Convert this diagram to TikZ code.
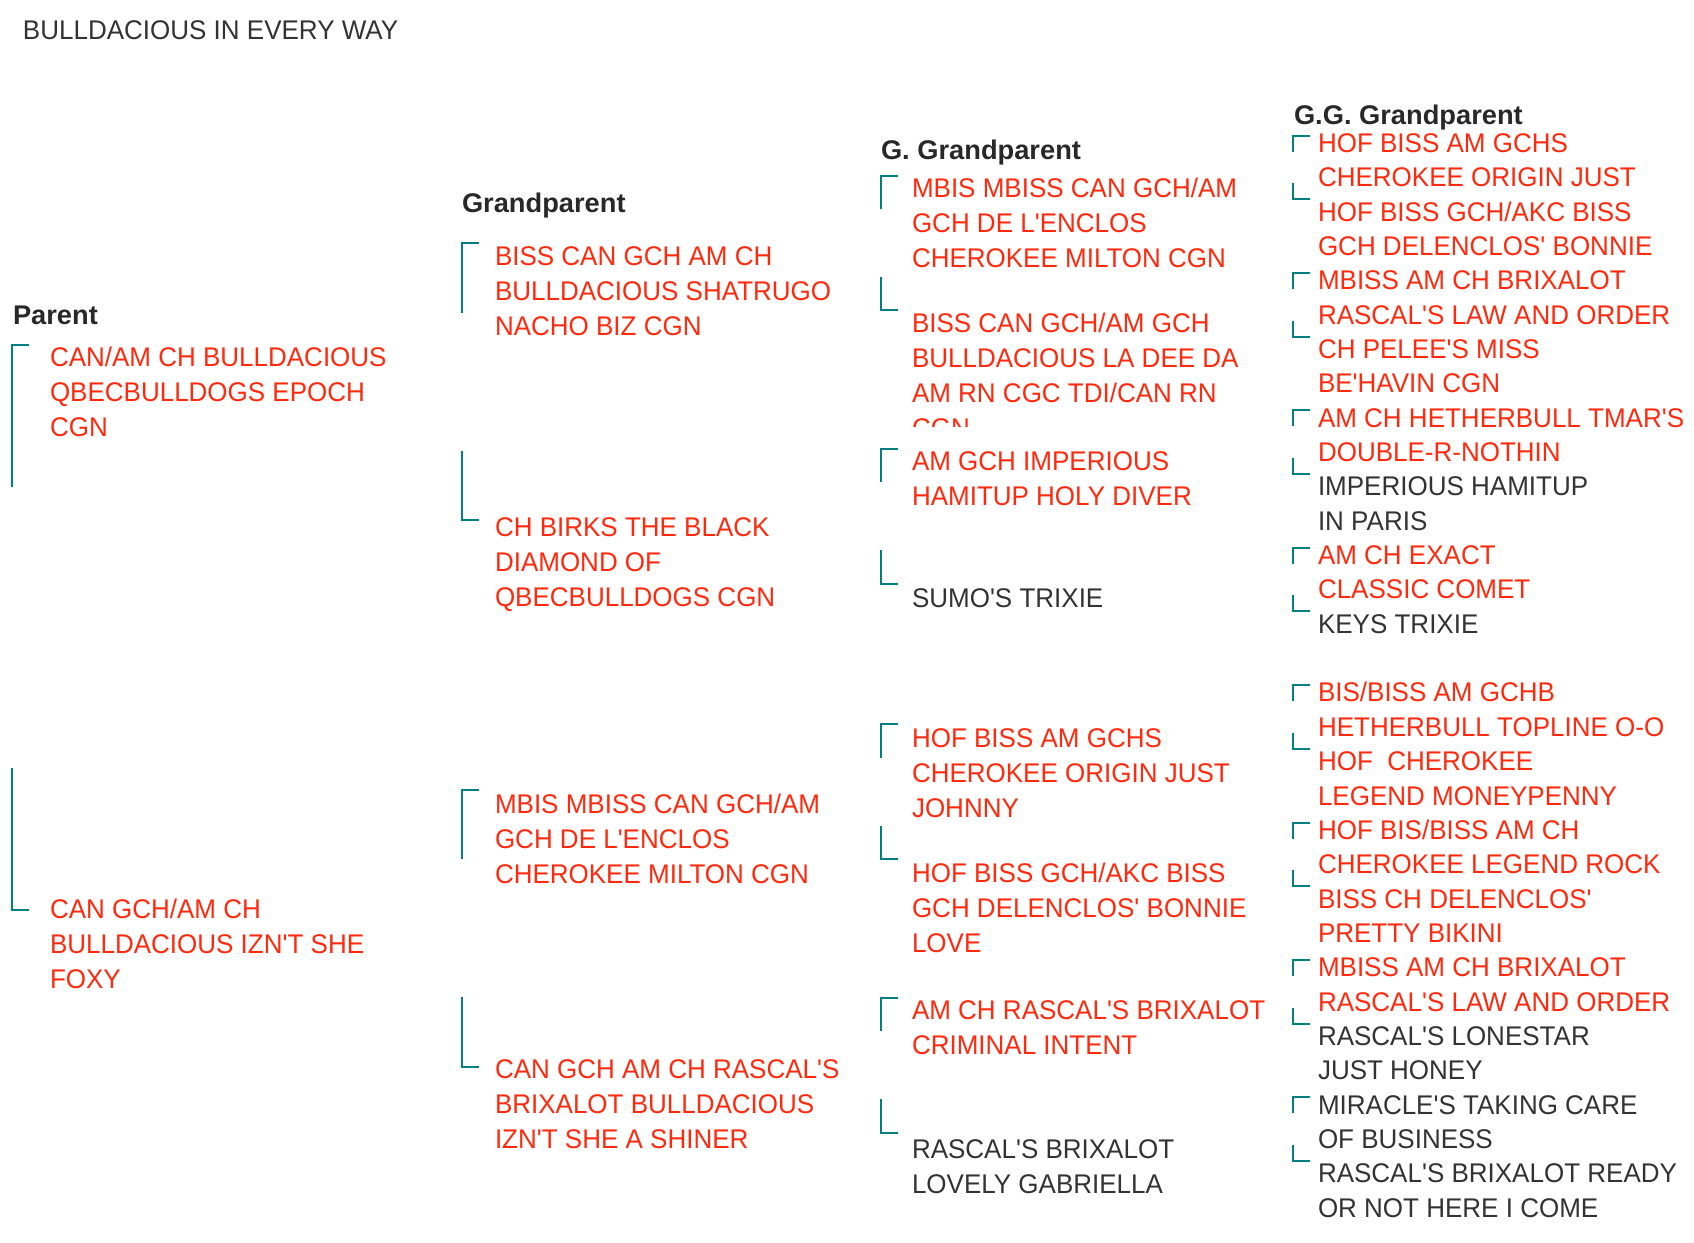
\documentclass[tikz,border=0pt]{standalone}
\usepackage{fontspec}
\usepackage{tikz}
\newfontfamily\pf{Liberation Sans}[FakeStretch=0.963]
\newfontfamily\pfh{Liberation Sans}[FakeStretch=1.01]
\definecolor{pedred}{RGB}{255,42,14}
\definecolor{pedteal}{RGB}{0,128,128}
\definecolor{pedgray}{RGB}{51,51,51}
\definecolor{headgray}{RGB}{40,40,40}
\begin{document}
\begin{tikzpicture}[x=1pt,y=-1pt,
  txt/.style={inner sep=0pt, outer sep=0pt, anchor=north west, align=left},
  dogred/.style={txt, text=pedred, font={\pf\fontsize{27}{35}\selectfont}},
  doggray/.style={txt, text=pedgray, font={\pf\fontsize{27}{35}\selectfont}},
  ggred/.style={txt, text=pedred, font={\pf\fontsize{27}{34.35}\selectfont}},
  gggray/.style={txt, text=pedgray, font={\pf\fontsize{27}{34.35}\selectfont}},
  heading/.style={txt, text=headgray, font={\pfh\bfseries\fontsize{27}{35}\selectfont}},
  titletext/.style={txt, text=pedgray, font={\pf\fontsize{27}{35}\selectfont}},
  brk/.style={draw=pedteal, line width=2pt}
]
\useasboundingbox[fill=white] (0,0) rectangle (1694,1242);

% title and headings
\node[titletext] (title) at (23,14.8) {\strut BULLDACIOUS IN EVERY WAY};
\node[heading] (hp) at (13,299.8) {\strut Parent};
\node[heading] (hgp) at (462,187.8) {\strut Grandparent};
\node[heading] (hggp) at (881,134.8) {\strut G. Grandparent};
\node[heading] (hgggp) at (1294,99.8) {\strut G.G. Grandparent};

% parents
\node[dogred] (p1) at (50,341.8) {\strut CAN/AM CH BULLDACIOUS\\QBECBULLDOGS EPOCH\\CGN};
\node[dogred] (p2) at (50,893.8) {\strut CAN GCH/AM CH\\BULLDACIOUS IZN'T SHE\\FOXY};
\draw[brk] (29,345) -- (12,345) -- (12,487);
\draw[brk] (12,768) -- (12,910) -- (29,910);

% grandparents
\node[dogred] (gp1) at (495,240.8) {\strut BISS CAN GCH AM CH\\BULLDACIOUS SHATRUGO\\NACHO BIZ CGN};
\node[dogred] (gp2) at (495,511.8) {\strut CH BIRKS THE BLACK\\DIAMOND OF\\QBECBULLDOGS CGN};
\node[dogred] (gp3) at (495,788.8) {\strut MBIS MBISS CAN GCH/AM\\GCH DE L'ENCLOS\\CHEROKEE MILTON CGN};
\node[dogred] (gp4) at (495,1053.8) {\strut CAN GCH AM CH RASCAL'S\\BRIXALOT BULLDACIOUS\\IZN'T SHE A SHINER};
\draw[brk] (479,243) -- (462,243) -- (462,313);
\draw[brk] (462,451) -- (462,520) -- (479,520);
\draw[brk] (479,790) -- (462,790) -- (462,859);
\draw[brk] (462,997) -- (462,1067) -- (479,1067);

% great-grandparents
\node[dogred] (ggp1) at (912,172.8) {\strut MBIS MBISS CAN GCH/AM\\GCH DE L'ENCLOS\\CHEROKEE MILTON CGN};
\begin{scope}
  \clip (900,290) rectangle (1290,426);
  \node[dogred] (ggp2) at (912,307.8) {\strut BISS CAN GCH/AM GCH\\BULLDACIOUS LA DEE DA\\AM RN CGC TDI/CAN RN\\CGN};
\end{scope}
\node[dogred] (ggp3) at (912,445.8) {\strut AM GCH IMPERIOUS\\HAMITUP HOLY DIVER};
\node[doggray] (ggp4) at (912,582.8) {\strut SUMO'S TRIXIE};
\node[dogred] (ggp5) at (912,722.8) {\strut HOF BISS AM GCHS\\CHEROKEE ORIGIN JUST\\JOHNNY};
\node[dogred] (ggp6) at (912,857.8) {\strut HOF BISS GCH/AKC BISS\\GCH DELENCLOS' BONNIE\\LOVE};
\node[dogred] (ggp7) at (912,994.8) {\strut AM CH RASCAL'S BRIXALOT\\CRIMINAL INTENT};
\node[doggray] (ggp8) at (912,1133.8) {\strut RASCAL'S BRIXALOT\\LOVELY GABRIELLA};
\draw[brk] (898,176) -- (881,176) -- (881,209);
\draw[brk] (881,277) -- (881,310) -- (898,310);
\draw[brk] (898,449) -- (881,449) -- (881,482);
\draw[brk] (881,550) -- (881,584) -- (898,584);
\draw[brk] (898,724) -- (881,724) -- (881,758);
\draw[brk] (881,826) -- (881,859) -- (898,859);
\draw[brk] (898,998) -- (881,998) -- (881,1031);
\draw[brk] (881,1099) -- (881,1133) -- (898,1133);

% great-great-grandparents
\node[ggred] (g1) at (1318,128.3) {\strut HOF BISS AM GCHS\\CHEROKEE ORIGIN JUST};
\node[ggred] (g2) at (1318,197.0) {\strut HOF BISS GCH/AKC BISS\\GCH DELENCLOS' BONNIE};
\node[ggred] (g3) at (1318,265.7) {\strut MBISS AM CH BRIXALOT\\RASCAL'S LAW AND ORDER};
\node[ggred] (g4) at (1318,334.4) {\strut CH PELEE'S MISS\\BE'HAVIN CGN};
\node[ggred] (g5) at (1318,403.1) {\strut AM CH HETHERBULL TMAR'S\\DOUBLE-R-NOTHIN};
\node[gggray] (g6) at (1318,471.8) {\strut IMPERIOUS HAMITUP\\IN PARIS};
\node[ggred] (g7) at (1318,540.5) {\strut AM CH EXACT\\CLASSIC COMET};
\node[gggray] (g8) at (1318,609.2) {\strut KEYS TRIXIE};
\node[ggred] (g9) at (1318,677.9) {\strut BIS/BISS AM GCHB\\HETHERBULL TOPLINE O-O};
\node[ggred] (g10) at (1318,746.6) {\strut HOF~~CHEROKEE\\LEGEND MONEYPENNY};
\node[ggred] (g11) at (1318,815.3) {\strut HOF BIS/BISS AM CH\\CHEROKEE LEGEND ROCK};
\node[ggred] (g12) at (1318,884.0) {\strut BISS CH DELENCLOS'\\PRETTY BIKINI};
\node[ggred] (g13) at (1318,952.7) {\strut MBISS AM CH BRIXALOT\\RASCAL'S LAW AND ORDER};
\node[gggray] (g14) at (1318,1021.4) {\strut RASCAL'S LONESTAR\\JUST HONEY};
\node[gggray] (g15) at (1318,1090.1) {\strut MIRACLE'S TAKING CARE\\OF BUSINESS};
\node[gggray] (g16) at (1318,1158.8) {\strut RASCAL'S BRIXALOT READY\\OR NOT HERE I COME};
\foreach \i in {0,...,7} {
  \pgfmathsetmacro\ta{133+\i*137.4}
  \pgfmathsetmacro\tb{201.7+\i*137.4}
  \draw[brk] (1310,\ta+2.5) -- (1293,\ta+2.5) -- (1293,\ta+18.5);
  \draw[brk] (1293,\tb-18.5) -- (1293,\tb-2.5) -- (1310,\tb-2.5);
}
\end{tikzpicture}
\end{document}
